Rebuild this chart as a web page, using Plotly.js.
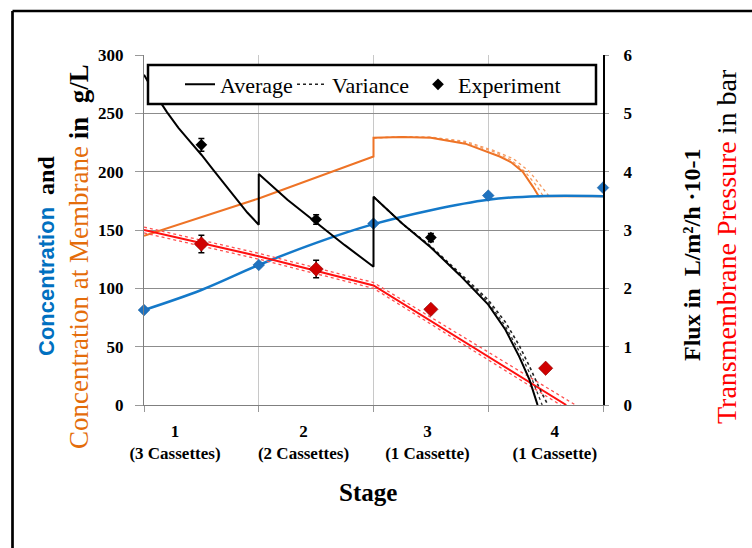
<!DOCTYPE html>
<html>
<head>
<meta charset="utf-8">
<script src="https://cdn.plot.ly/plotly-3.0.1.min.js"></script>
<style>html,body{margin:0;padding:0;background:#fff;}#chart{width:752px;height:548px;}</style>
</head>
<body>
<div id="chart"></div>
<script>
// ---------- data ----------
const stageLabels = ['1<br>(3 Cassettes)', '2<br>(2 Cassettes)', '3<br>(1 Cassette)', '4<br>(1 Cassette)'];

// Concentration (left axis, g/L)
const concX = [0, 0.5, 1, 1.5, 2, 2.5, 3, 3.44, 4];
const concY = [81.4, 98.6, 120, 139, 155, 167, 176, 179, 179];
const concExpX = [0, 1, 2, 3, 4];
const concExpY = [81.4, 120, 155.5, 179.5, 186.3];

// Concentration at membrane (left axis, g/L)
const memX = [0, 1, 2, 2, 2.25, 2.5, 2.8, 3.0, 3.1, 3.2, 3.3, 3.39, 3.44, 4];
const memY = [145, 177, 213, 229, 229.7, 229, 224, 217, 213, 208, 200, 187, 179, 179];
const memVarAX = [2, 2.25, 2.5, 2.8, 3.05, 3.2, 3.32, 3.42, 3.48, 4];
const memVarAY = [229, 229.7, 229.3, 225, 217, 210, 200, 188, 179, 179];
const memVarBX = [2, 2.25, 2.5, 2.8, 3.05, 3.22, 3.36, 3.46, 3.53, 4];
const memVarBY = [229, 229.8, 229.6, 226, 218, 211, 200, 188, 179, 179];

// Flux (right axis)
const fluxX = [0, 0.1, 0.2, 0.3, 0.4, 0.5, 0.6, 0.7, 0.8, 0.9, 1.0, 1.0, 1.25, 1.5, 1.75, 2.0, 2.0, 2.25, 2.5, 2.75, 2.9, 3.0, 3.15, 3.27, 3.36, 3.43];
const fluxY = [5.66, 5.32, 5.02, 4.75, 4.52, 4.29, 4.04, 3.79, 3.53, 3.30, 3.09, 3.96, 3.52, 3.13, 2.74, 2.37, 3.57, 3.11, 2.70, 2.23, 1.93, 1.72, 1.29, 0.83, 0.43, 0];
const fluxVarAX = [2.0, 2.25, 2.5, 2.75, 2.9, 3.0, 3.15, 3.27, 3.36, 3.47];
const fluxVarAY = [3.57, 3.11, 2.71, 2.25, 1.96, 1.76, 1.35, 0.92, 0.55, 0];
const fluxVarBX = [2.0, 2.25, 2.5, 2.75, 2.9, 3.0, 3.15, 3.27, 3.36, 3.45, 3.52];
const fluxVarBY = [3.57, 3.11, 2.72, 2.27, 1.99, 1.80, 1.42, 1.02, 0.66, 0.27, 0];
const fluxExpX = [0.5, 1.5, 2.5];
const fluxExpY = [4.46, 3.18, 2.87];
const fluxExpErr = [0.11, 0.08, 0.07];

// Transmembrane pressure (right axis, bar)
const tmpX = [0, 1, 2, 3.68];
const tmpY = [3.0, 2.55, 2.05, 0];
const tmpVarAX = [0, 1, 2, 3.76];
const tmpVarAY = [3.05, 2.6, 2.1, 0];
const tmpVarBX = [0, 1, 2, 3.63];
const tmpVarBY = [2.95, 2.5, 2.0, 0];
const tmpExpX = [0.5, 1.5, 2.5, 3.5];
const tmpExpY = [2.76, 2.33, 1.64, 0.63];
const tmpExpErr = [0.15, 0.15, 0, 0];

// ---------- styles ----------
const BLUE = '#1479C9', ORANGE = '#EE7326', RED = '#FF1010', BLACK = '#000000';
const SERIF = 'Liberation Serif, Times New Roman, serif';

const traces = [
  {x: memVarAX, y: memVarAY, mode: 'lines', line: {color: '#F59A60', width: 1.3, dash: 'dot'}, showlegend: false},
  {x: memVarBX, y: memVarBY, mode: 'lines', line: {color: '#F59A60', width: 1.3, dash: 'dot'}, showlegend: false},
  {x: memX, y: memY, mode: 'lines', line: {color: ORANGE, width: 2}, showlegend: false},
  {x: concX, y: concY, mode: 'lines', line: {color: BLUE, width: 2.5, shape: 'spline'}, showlegend: false},
  {x: concExpX, y: concExpY, mode: 'markers', cliponaxis: false, marker: {symbol: 'diamond', size: 9, color: '#1F72BF', line: {color: '#175A99', width: 0.5}}, showlegend: false},
  {x: tmpVarAX, y: tmpVarAY, yaxis: 'y2', mode: 'lines', line: {color: '#FF5050', width: 1.3, dash: 'dot'}, showlegend: false},
  {x: tmpVarBX, y: tmpVarBY, yaxis: 'y2', mode: 'lines', line: {color: '#FF5050', width: 1.3, dash: 'dot'}, showlegend: false},
  {x: tmpX, y: tmpY, yaxis: 'y2', mode: 'lines', line: {color: RED, width: 2}, showlegend: false},
  {x: fluxVarAX, y: fluxVarAY, yaxis: 'y2', mode: 'lines', line: {color: '#333', width: 1.3, dash: 'dot'}, showlegend: false},
  {x: fluxVarBX, y: fluxVarBY, yaxis: 'y2', mode: 'lines', name: 'Variance', legend: 'legend2', line: {color: '#222', width: 1.6, dash: 'dot'}, showlegend: true},
  {x: fluxX, y: fluxY, yaxis: 'y2', mode: 'lines', name: 'Average', legend: 'legend', line: {color: BLACK, width: 2}, showlegend: true},
  {x: tmpExpX, y: tmpExpY, yaxis: 'y2', mode: 'markers', cliponaxis: false, marker: {symbol: 'diamond', size: 11, color: '#D00000', line: {color: '#8A0000', width: 0.6}},
   error_y: {type: 'data', array: tmpExpErr, color: '#000', thickness: 1.5, width: 3}, showlegend: false},
  {x: fluxExpX, y: fluxExpY, yaxis: 'y2', mode: 'markers', cliponaxis: false, name: 'Experiment', legend: 'legend3', marker: {symbol: 'diamond', size: 9, color: BLACK},
   error_y: {type: 'data', array: fluxExpErr, color: '#000', thickness: 1.5, width: 3}, showlegend: true}
];

const L = 144, R = 603, T = 55, B = 405, W = 752, H = 548;
const px = v => (v - L) / (R - L);
const py = v => (B - v) / (B - T);

const legendBase = {bgcolor: 'rgba(0,0,0,0)', borderwidth: 0, font: {family: SERIF, size: 22, color: '#000'},
  yanchor: 'middle', xanchor: 'left', orientation: 'h', itemwidth: 30};

const layout = {
  width: W, height: H, autosize: false,
  margin: {l: L, r: W - R, t: T, b: H - B, pad: 0},
  paper_bgcolor: '#fff', plot_bgcolor: '#fff',
  showlegend: true,
  legend: Object.assign({}, legendBase, {x: px(180), y: py(84.5)}),
  legend2: Object.assign({}, legendBase, {x: px(292), y: py(84.5)}),
  legend3: Object.assign({}, legendBase, {x: px(418), y: py(84.5)}),
  xaxis: {
    range: [0, 4], fixedrange: true,
    tickmode: 'array', tickvals: [0.27, 1.39, 2.47, 3.58], ticktext: stageLabels,
    ticks: '', showgrid: false, zeroline: false,
    tickfont: {family: SERIF, size: 17, weight: 'bold', color: '#000'},
    ticklabelstandoff: 10,
    showline: true, linecolor: '#7f7f7f', linewidth: 1.2,
    minor: {tickmode: 'linear', tick0: 0, dtick: 1, ticks: 'outside', ticklen: 6, tickcolor: '#999', showgrid: true, gridcolor: '#c8c8c8', gridwidth: 1}
  },
  yaxis: {
    range: [0, 300], dtick: 50, fixedrange: true,
    ticks: 'outside', ticklen: 8, tickcolor: '#999',
    showgrid: true, gridcolor: '#8c8c8c', gridwidth: 1, zeroline: false,
    showline: true, linecolor: '#7f7f7f', linewidth: 1.2,
    tickfont: {family: SERIF, size: 17, weight: 'bold', color: '#000'},
    ticklabelstandoff: 8
  },
  yaxis2: {
    range: [0, 6], dtick: 1, overlaying: 'y', side: 'right', fixedrange: true,
    ticks: 'outside', ticklen: 4, tickcolor: '#999',
    showgrid: false, zeroline: false,
    showline: true, linecolor: '#000', linewidth: 2,
    tickfont: {family: SERIF, size: 17, weight: 'bold', color: '#000'},
    ticklabelstandoff: 11
  },
  shapes: [
    {type: 'rect', xref: 'paper', yref: 'paper', x0: px(148), x1: px(596), y0: py(104), y1: py(65), fillcolor: '#fff', line: {color: '#000', width: 2.5}, layer: 'above'},
    {type: 'line', xref: 'paper', yref: 'paper', x0: px(12.5), x1: px(760), y0: py(11), y1: py(11), line: {color: '#000', width: 2.7}},
    {type: 'line', xref: 'paper', yref: 'paper', x0: px(12.5), x1: px(12.5), y0: py(11), y1: py(560), line: {color: '#000', width: 2.7}}
  ],
  annotations: [
    {xref: 'paper', yref: 'paper', x: px(46), y: py(256), textangle: -90, showarrow: false, xanchor: 'center', yanchor: 'middle',
     font: {family: SERIF, size: 24, color: '#000'},
     text: "<span style='font-family:Liberation Sans, Arial, sans-serif;font-weight:bold;color:#0070C0;font-size:22px'>Concentration</span>&nbsp; <b>and</b>"},
    {xref: 'paper', yref: 'paper', x: px(79), y: py(257), textangle: -90, showarrow: false, xanchor: 'center', yanchor: 'middle',
     font: {family: SERIF, size: 27, color: '#000'},
     text: "<span style='color:#E46C0A'>Concentration at Membrane</span> <b>in&nbsp; g/L</b>"},
    {xref: 'paper', yref: 'paper', x: px(692), y: py(255), textangle: -90, showarrow: false, xanchor: 'center', yanchor: 'middle',
     font: {family: SERIF, size: 24, color: '#000', weight: 'bold'},
     text: "Flux in&nbsp; L/m²/h ·10-1"},
    {xref: 'paper', yref: 'paper', x: px(726), y: py(247), textangle: -90, showarrow: false, xanchor: 'center', yanchor: 'middle',
     font: {family: SERIF, size: 28, color: '#000'},
     text: "<span style='color:#FF0000'>Transmembrane Pressure</span> in bar"},
    {xref: 'paper', yref: 'paper', x: px(368), y: py(492), showarrow: false, xanchor: 'center', yanchor: 'middle',
     font: {family: SERIF, size: 25, color: '#000', weight: 'bold'},
     text: "Stage"}
  ]
};

Plotly.newPlot('chart', traces, layout, {staticPlot: true, displayModeBar: false});
</script>
</body>
</html>
